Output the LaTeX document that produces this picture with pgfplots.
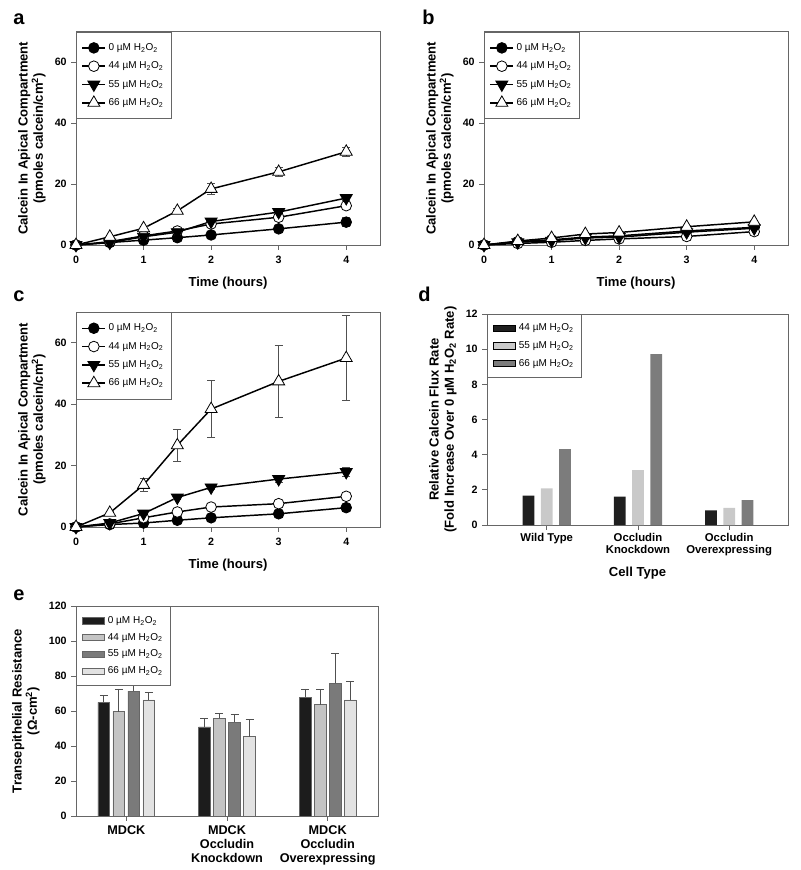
\documentclass[border=0pt]{standalone}
\usepackage{pgfplots}
\pgfplotsset{compat=1.18}
\usepackage{fontspec}
\setmainfont{Liberation Sans}
\newcommand{\hh}{H\textsubscript{2}O\textsubscript{2}}
\definecolor{axgray}{HTML}{666666}
\definecolor{ebgray}{HTML}{505050}
\pgfplotsset{
  panel/.style={scale only axis, clip=false,
    axis line style={axgray, line width=0.6pt},
    tick align=outside, xtick pos=bottom, ytick pos=left,
    major tick length=3.5pt, tick style={axgray, line width=0.6pt},
    ticklabel style={font=\bfseries\fontsize{8}{9}\selectfont},
    label style={font=\bfseries\fontsize{9.8}{11.5}\selectfont, align=center},
    /pgf/number format/assume math mode=true,
    legend style={at={(0,1)}, anchor=north west, draw=axgray, line width=0.6pt,
      font=\fontsize{7.5}{8.5}\selectfont, row sep=3pt, inner xsep=4pt, inner ysep=6.5pt},
    legend cell align=left},
  linepanel/.style={panel, width=228pt, height=160pt,
    xmin=0, xmax=4.5, ymin=0, ymax=70,
    xtick={0,1,2,3,4}, ytick={0,20,40,60},
    xticklabel style={yshift=-1.5pt},
    xlabel={Time (hours)}, xlabel style={yshift=-3pt},
    ylabel={Calcein In Apical Compartment\\(pmoles calcein/cm\textsuperscript{2})}},
  ser/.style={black, line width=1.1pt,
    error bars/y dir=both, error bars/y explicit,
    error bars/error bar style={ebgray, line width=0.6pt},
    error bars/error mark options={rotate=90, mark size=3pt, ebgray, line width=0.6pt}},
  s0/.style={ser, mark=*, mark size=4pt, mark options={fill=black, line width=0.6pt, solid}},
  s44/.style={ser, mark=*, mark size=4pt, mark options={fill=white, line width=0.6pt, solid}},
  s55/.style={ser, mark=triangle*, mark size=5.2pt, mark options={fill=black, rotate=180, line width=0.6pt, solid}},
  s66/.style={ser, mark=triangle*, mark size=5.2pt, mark options={fill=white, line width=0.6pt, solid}},
  barleg/.style={legend image code/.code={\draw[##1] (0pt,-2.3pt) rectangle (17pt,2.3pt);}},
}
\begin{document}
\begin{tikzpicture}
\path[use as bounding box] (0,0) rectangle ({800*0.75pt},{-870*0.75pt});
\tikzset{plab/.style={anchor=base west, font=\bfseries\fontsize{15}{15}\selectfont, inner sep=0pt}}
\node[plab] at ({13*0.75pt},{-25*0.75pt}) {a};
\node[plab] at ({422*0.75pt},{-25*0.75pt}) {b};
\node[plab] at ({13*0.75pt},{-301*0.75pt}) {c};
\node[plab] at ({418*0.75pt},{-301*0.75pt}) {d};
\node[plab] at ({13*0.75pt},{-600*0.75pt}) {e};

% ---------- panel a
\begin{axis}[linepanel, at={({76*0.75pt},{-245*0.75pt})}, anchor=south west]
\addplot[s0] coordinates {(0,0) +- (0,0.1) (0.5,0.8) +- (0,0.2) (1,1.6) +- (0,0.3) (1.5,2.4) +- (0,0.3) (2,3.3) +- (0,0.4) (3,5.3) +- (0,0.5) (4,7.5) +- (0,1.4)};
\addlegendentry{0 µM \hh}
\addplot[s44] coordinates {(0,0) +- (0,0.1) (0.5,1.1) +- (0,0.2) (1,3.0) +- (0,0.3) (1.5,4.6) +- (0,0.4) (2,6.9) +- (0,0.5) (3,9.1) +- (0,0.6) (4,12.9) +- (0,1.0)};
\addlegendentry{44 µM \hh}
\addplot[s55] coordinates {(0,0) +- (0,0.1) (0.5,0.8) +- (0,0.2) (1,2.7) +- (0,0.3) (1.5,4.2) +- (0,0.4) (2,7.7) +- (0,0.5) (3,10.8) +- (0,0.6) (4,15.4) +- (0,0.8)};
\addlegendentry{55 µM \hh}
\addplot[s66] coordinates {(0,0) +- (0,0.1) (0.5,2.7) +- (0,0.3) (1,5.5) +- (0,0.5) (1.5,11.2) +- (0,0.8) (2,18.4) +- (0,1.8) (3,24.0) +- (0,1.6) (4,30.6) +- (0,1.5)};
\addlegendentry{66 µM \hh}
\end{axis}

% ---------- panel b
\begin{axis}[linepanel, at={({484*0.75pt},{-245*0.75pt})}, anchor=south west]
\addplot[s0] coordinates {(0,0) +- (0,0.1) (0.5,1.1) +- (0,0.2) (1,1.7) +- (0,0.2) (1.5,2.6) +- (0,0.3) (2,3.0) +- (0,0.3) (3,4.6) +- (0,0.4) (4,5.8) +- (0,0.5)};
\addlegendentry{0 µM \hh}
\addplot[s44] coordinates {(0,0) +- (0,0.1) (0.5,0.5) +- (0,0.1) (1,0.9) +- (0,0.2) (1.5,1.5) +- (0,0.2) (2,2.0) +- (0,0.3) (3,2.8) +- (0,0.3) (4,4.4) +- (0,0.4)};
\addlegendentry{44 µM \hh}
\addplot[s55] coordinates {(0,0) +- (0,0.1) (0.5,0.9) +- (0,0.2) (1,1.4) +- (0,0.2) (1.5,2.3) +- (0,0.3) (2,2.6) +- (0,0.3) (3,4.2) +- (0,0.4) (4,5.5) +- (0,0.5)};
\addlegendentry{55 µM \hh}
\addplot[s66] coordinates {(0,0) +- (0,0.1) (0.5,1.3) +- (0,0.2) (1,2.3) +- (0,0.2) (1.5,3.6) +- (0,0.3) (2,4.1) +- (0,0.3) (3,6.0) +- (0,0.4) (4,7.6) +- (0,0.5)};
\addlegendentry{66 µM \hh}
\end{axis}

% ---------- panel c
\begin{axis}[linepanel, at={({76*0.75pt},{-527*0.75pt})}, anchor=south west, height=161.25pt]
\addplot[s0] coordinates {(0,0) +- (0,0.1) (0.5,0.8) +- (0,0.2) (1,1.3) +- (0,0.3) (1.5,2.2) +- (0,0.3) (2,3.0) +- (0,0.4) (3,4.3) +- (0,0.5) (4,6.3) +- (0,0.7)};
\addlegendentry{0 µM \hh}
\addplot[s44] coordinates {(0,0) +- (0,0.1) (0.5,1.0) +- (0,0.2) (1,3.0) +- (0,0.3) (1.5,4.9) +- (0,0.4) (2,6.5) +- (0,0.5) (3,7.6) +- (0,0.6) (4,10.0) +- (0,0.8)};
\addlegendentry{44 µM \hh}
\addplot[s55] coordinates {(0,0) +- (0,0.1) (0.5,1.3) +- (0,0.2) (1,4.4) +- (0,0.4) (1.5,9.6) +- (0,0.6) (2,12.9) +- (0,0.8) (3,15.6) +- (0,1.2) (4,17.9) +- (0,1.5)};
\addlegendentry{55 µM \hh}
\addplot[s66] coordinates {(0,0) +- (0,0.1) (0.5,4.6) +- (0,0.5) (1,13.7) +- (0,2.0) (1.5,26.6) +- (0,5.3) (2,38.4) +- (0,9.2) (3,47.4) +- (0,11.7) (4,55.0) +- (0,13.9)};
\addlegendentry{66 µM \hh}
\end{axis}

% ---------- panel d
\begin{axis}[panel, at={({487*0.75pt},{-525*0.75pt})}, anchor=south west,
  width=225.75pt, height=158.25pt,
  ybar=4.9pt, bar width=8.8pt, barleg,
  xmin=-0.655, xmax=2.645, ymin=0, ymax=12, ytick={0,2,...,12},
  xtick={0,1,2}, xticklabels={Wild Type,{Occludin\\Knockdown},{Occludin\\Overexpressing}},
  xticklabel style={align=center, yshift=1pt, font=\bfseries\fontsize{8.5}{9.5}\selectfont},
  xlabel={Cell Type}, xlabel style={yshift=-1pt},
  legend style={row sep=2.5pt, inner ysep=5pt},
  ylabel={Relative Calcein Flux Rate\\(Fold Increase Over 0 µM \hh{} Rate)}]
\addplot[fill={rgb,255:red,31;green,31;blue,31}, draw=none] coordinates {(0,1.67) (1,1.61) (2,0.83)};
\addlegendentry{44 µM \hh}
\addplot[fill={rgb,255:red,201;green,201;blue,201}, draw=none] coordinates {(0,2.08) (1,3.12) (2,0.98)};
\addlegendentry{55 µM \hh}
\addplot[fill={rgb,255:red,124;green,124;blue,124}, draw=none] coordinates {(0,4.32) (1,9.72) (2,1.41)};
\addlegendentry{66 µM \hh}
\end{axis}

% ---------- panel e
\begin{axis}[panel, at={({76*0.75pt},{-816*0.75pt})}, anchor=south west,
  width=226.5pt, height=157.5pt,
  ybar=2.45pt, bar width=8.8pt, barleg,
  xmin=-0.5, xmax=2.5, ymin=0, ymax=120, ytick={0,20,...,120},
  xtick={0,1,2}, xticklabels={MDCK,{MDCK\\Occludin\\Knockdown},{MDCK\\Occludin\\Overexpressing}},
  xticklabel style={align=center, font=\bfseries\fontsize{9.5}{10.5}\selectfont},
  ylabel={Transepithelial Resistance\\(Ω-cm\textsuperscript{2})},
  legend style={row sep=1.8pt, inner ysep=5.5pt},
  error bars/y dir=plus, error bars/y explicit,
  error bars/error bar style={ebgray, line width=0.6pt},
  error bars/error mark options={rotate=90, mark size=3pt, ebgray, line width=0.6pt}]
\addplot[fill={rgb,255:red,28;green,28;blue,28}, draw=axgray, line width=0.6pt] coordinates {(0,65.0) +- (0,4.0) (1,50.9) +- (0,4.9) (2,68.0) +- (0,4.6)};
\addlegendentry{0 µM \hh}
\addplot[fill={rgb,255:red,196;green,196;blue,196}, draw=axgray, line width=0.6pt] coordinates {(0,59.6) +- (0,13.0) (1,55.8) +- (0,2.9) (2,63.6) +- (0,8.6)};
\addlegendentry{44 µM \hh}
\addplot[fill={rgb,255:red,122;green,122;blue,122}, draw=axgray, line width=0.6pt] coordinates {(0,71.4) +- (0,3.3) (1,53.7) +- (0,4.4) (2,76.0) +- (0,17.0)};
\addlegendentry{55 µM \hh}
\addplot[fill={rgb,255:red,226;green,226;blue,226}, draw=axgray, line width=0.6pt] coordinates {(0,66.3) +- (0,4.4) (1,45.3) +- (0,9.9) (2,66.3) +- (0,10.8)};
\addlegendentry{66 µM \hh}
\end{axis}
\end{tikzpicture}
\end{document}
